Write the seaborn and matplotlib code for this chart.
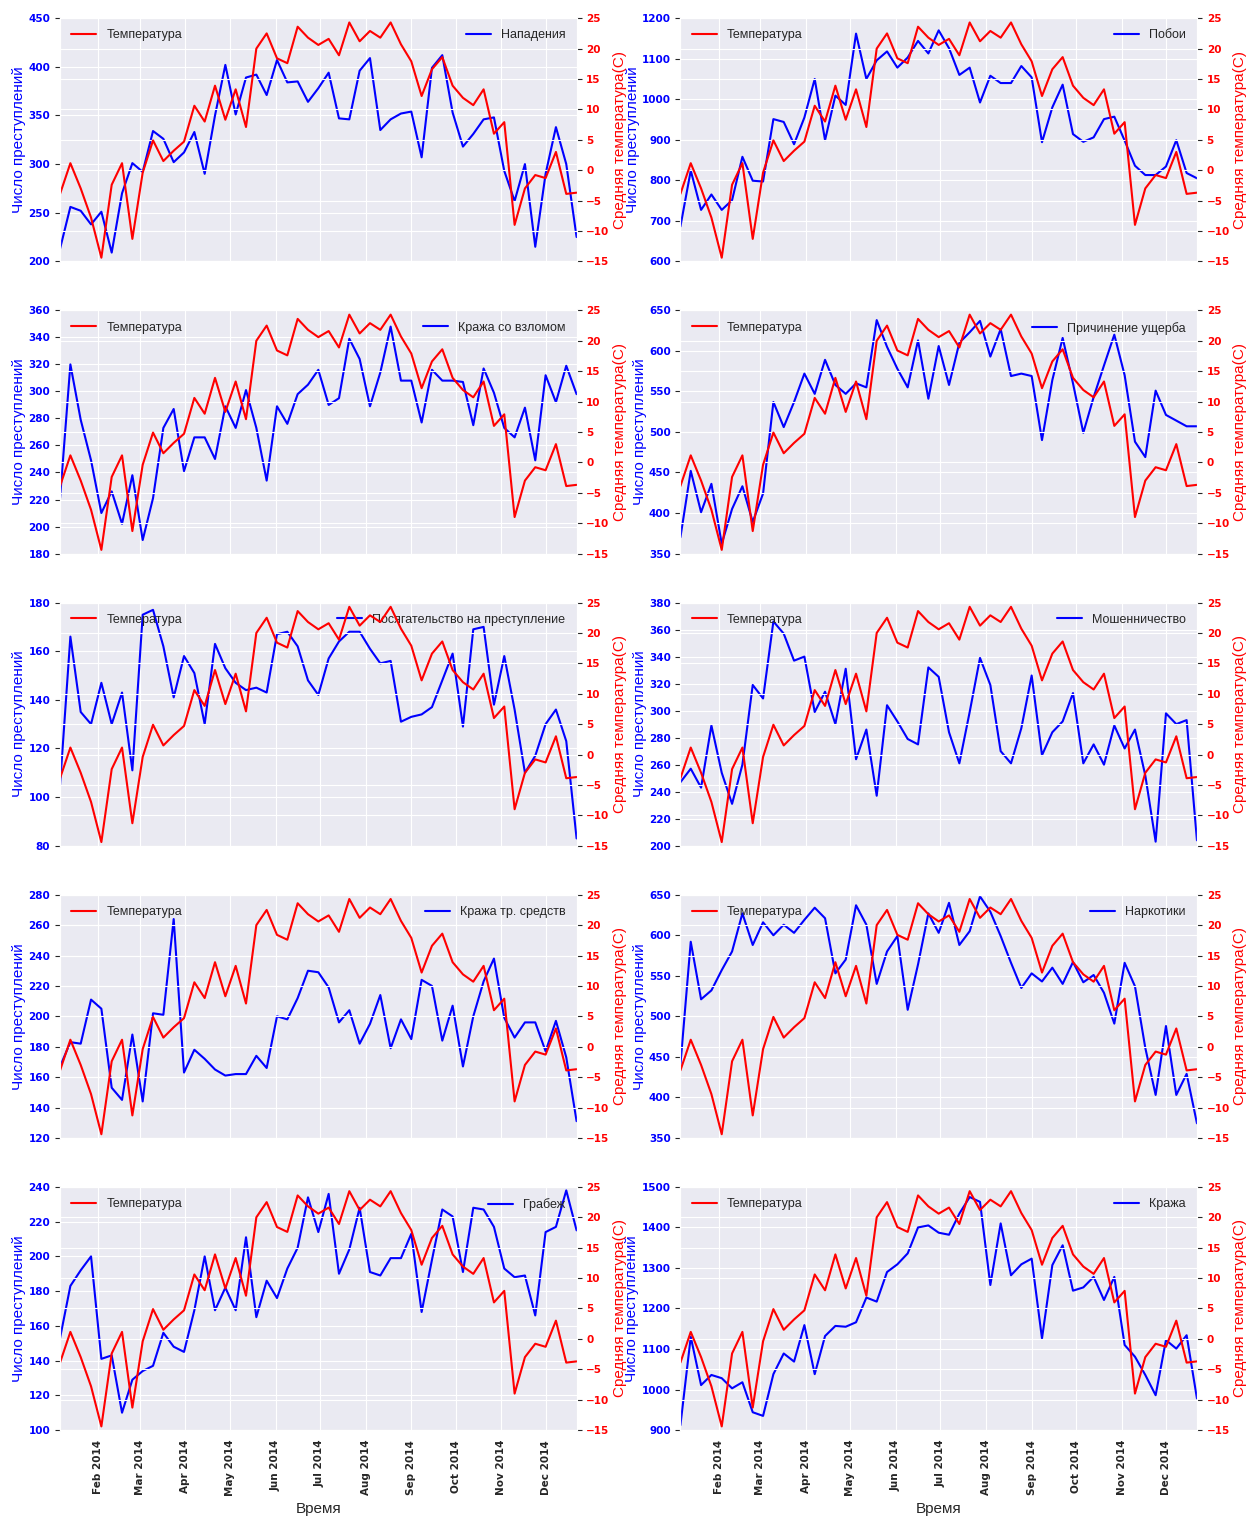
import numpy as np
import pandas as pd
import matplotlib
matplotlib.use("Agg")
import matplotlib.pyplot as plt
import seaborn as sns

# Weekly observations for 2014
weeks = pd.date_range("2014-01-06", periods=51, freq="7D")

# Mean weekly temperature, °C
temperature = [-3.9, 1.15, -3.0, -7.8, -14.4, -2.4, 1.15, -11.3, -0.4, 4.9,
               1.5, 3.2, 4.7, 10.6, 8.0, 13.9, 8.3, 13.3, 7.1, 20.0,
               22.5, 18.4, 17.6, 23.6, 21.8, 20.6, 21.6, 18.9, 24.3, 21.2,
               22.9, 21.8, 24.3, 20.7, 17.9, 12.2, 16.6, 18.6, 13.9, 11.9,
               10.7, 13.3, 6.0, 7.9, -9.0, -3.0, -0.8, -1.3, 3.0, -3.9, -3.7]

# Weekly crime counts by category
assault = [213, 256, 252, 238, 251, 209, 270, 301, 292, 334,
           326, 302, 312, 333, 290, 350, 402, 351, 389, 392,
           371, 407, 384, 385, 364, 378, 394, 347, 346, 396,
           409, 335, 346, 352, 354, 307, 399, 412, 353, 318,
           331, 346, 348, 293, 262, 300, 215, 290, 338, 300, 225]
battery = [686, 824, 727, 765, 727, 751, 858, 799, 797, 951,
           944, 889, 955, 1050, 899, 1009, 986, 1162, 1050, 1096,
           1118, 1078, 1103, 1144, 1113, 1170, 1126, 1060, 1078, 992,
           1058, 1040, 1040, 1082, 1054, 894, 980, 1036, 914, 895,
           906, 951, 957, 898, 836, 813, 813, 834, 899, 818, 805]
burglary = [221, 320, 279, 249, 210, 226, 202, 238, 190, 221,
            273, 287, 241, 266, 266, 250, 289, 273, 301, 273,
            234, 289, 276, 298, 305, 316, 290, 295, 339, 324,
            289, 314, 348, 308, 308, 277, 316, 308, 308, 307,
            275, 317, 299, 273, 266, 288, 249, 312, 292, 319, 298]
criminal_damage = [370, 452, 401, 436, 362, 405, 433, 389, 424, 537,
                   506, 537, 572, 547, 589, 558, 547, 560, 555, 638,
                   605, 578, 555, 613, 541, 606, 558, 610, 623, 637,
                   593, 627, 569, 572, 569, 490, 564, 616, 560, 499,
                   543, 582, 620, 570, 488, 469, 551, 521, 514, 507, 507]
trespass = [105, 166, 135, 130, 147, 130, 143, 111, 175, 177,
            162, 141, 158, 151, 130, 163, 153, 147, 144, 145,
            143, 167, 168, 162, 148, 142, 157, 164, 168, 168,
            161, 155, 156, 131, 133, 134, 137, 148, 159, 129,
            169, 170, 138, 158, 136, 110, 117, 130, 136, 123, 83]
fraud = [247, 257, 243, 289, 254, 231, 260, 319, 309, 366,
         357, 337, 340, 299, 314, 290, 331, 264, 286, 237,
         304, 292, 279, 275, 332, 325, 284, 261, 299, 339,
         319, 270, 261, 287, 326, 267, 284, 292, 313, 261,
         275, 260, 289, 272, 286, 252, 203, 298, 290, 293, 204]
vehicle_theft = [167, 183, 182, 211, 205, 153, 145, 188, 144, 202,
                 201, 264, 163, 178, 172, 165, 161, 162, 162, 174,
                 166, 200, 198, 212, 230, 229, 219, 196, 204, 182,
                 195, 214, 179, 198, 185, 224, 220, 184, 207, 167,
                 200, 223, 238, 199, 186, 196, 196, 177, 197, 173, 131]
narcotics = [440, 592, 521, 532, 557, 580, 627, 588, 616, 600,
             613, 603, 619, 634, 621, 553, 570, 637, 613, 540,
             580, 599, 508, 564, 627, 603, 640, 588, 605, 648,
             629, 599, 566, 535, 553, 543, 560, 540, 567, 542,
             551, 529, 491, 566, 537, 461, 403, 488, 403, 429, 368]
robbery = [153, 183, 192, 200, 141, 143, 110, 129, 134, 137,
           156, 148, 145, 169, 200, 169, 182, 169, 211, 165,
           186, 176, 193, 205, 234, 214, 236, 190, 204, 228,
           191, 189, 199, 199, 213, 168, 198, 227, 223, 191,
           228, 227, 217, 193, 188, 189, 166, 214, 217, 238, 215]
theft = [912, 1130, 1011, 1036, 1028, 1003, 1018, 944, 935, 1038,
         1089, 1069, 1159, 1038, 1132, 1157, 1155, 1166, 1227, 1217,
         1290, 1309, 1336, 1400, 1405, 1387, 1382, 1434, 1475, 1463,
         1258, 1410, 1282, 1309, 1323, 1126, 1307, 1356, 1244, 1252,
         1278, 1221, 1278, 1110, 1081, 1036, 986, 1122, 1101, 1134, 978]

crime_names = ["Нападения", "Побои", "Кража со взломом", "Причинение ущерба",
               "Посягательство на преступление", "Мошенничество",
               "Кража тр. средств", "Наркотики", "Грабеж", "Кража"]
crime_series = [assault, battery, burglary, criminal_damage, trespass,
                fraud, vehicle_theft, narcotics, robbery, theft]

# Left-axis range (low, high, step) for each panel
count_ranges = [(200, 450, 50), (600, 1200, 100), (180, 360, 20), (350, 650, 50),
                (80, 180, 20), (200, 380, 20), (120, 280, 20), (350, 650, 50),
                (100, 240, 20), (900, 1500, 100)]
temp_ticks = [-15, -10, -5, 0, 5, 10, 15, 20, 25]

month_ticks = pd.date_range("2014-02-01", "2014-12-01", freq="MS")
month_labels = ["Feb 2014", "Mar 2014", "Apr 2014", "May 2014", "Jun 2014",
                "Jul 2014", "Aug 2014", "Sep 2014", "Oct 2014", "Nov 2014",
                "Dec 2014"]

sns.set_style("darkgrid")
plt.rcParams["font.family"] = ["Liberation Sans", "DejaVu Sans"]

TEXT = "#262626"
TICK_FONT = dict(family="DejaVu Sans", weight="bold", size=7.5)


def fmt(v):
    return str(v).replace("-", "\u2212")


fig, axes = plt.subplots(5, 2, figsize=(12.51, 15.17), dpi=100, sharex=True)
fig.subplots_adjust(left=0.048, right=0.9568, bottom=0.0573, top=0.988,
                    wspace=0.201, hspace=0.2016)

for i, ax in enumerate(axes.flat):
    name = crime_names[i]
    values = crime_series[i]
    lo, hi, step = count_ranges[i]

    sns.lineplot(x=weeks, y=values, ax=ax, color="b", lw=1.5, label=name)
    ax.set_xlim(weeks[0], weeks[-1])
    ax.set_ylim(lo, hi)
    yt = list(range(lo, hi + 1, step))
    ax.set_yticks(yt)
    ax.set_yticklabels([fmt(v) for v in yt], color="b", fontdict=TICK_FONT)
    ax.set_ylabel("Число преступлений", color="b", fontsize=11, labelpad=1.5)
    ax.set_xlabel("")
    ax.legend(loc="upper right", frameon=False, fontsize=9,
              labelcolor=TEXT)

    ax2 = ax.twinx()
    sns.lineplot(x=weeks, y=temperature, ax=ax2, color="r", lw=1.5,
                 label="Температура")
    ax2.set_ylim(-15, 25)
    ax2.set_yticks(temp_ticks)
    ax2.set_yticklabels([fmt(v) for v in temp_ticks], color="r",
                        fontdict=TICK_FONT)
    ax2.set_ylabel("Средняя температура(С)", color="r", fontsize=11,
                   labelpad=2.5)
    ax2.set_xlabel("")
    ax2.legend(loc="upper left", frameon=False, fontsize=9, labelcolor=TEXT)

for ax in axes[-1]:
    ax.set_xticks(month_ticks)
    ax.set_xticklabels(month_labels, rotation=90, fontdict=TICK_FONT,
                       color=TEXT)
    ax.set_xlabel("Время", fontsize=11, color=TEXT)

fig.savefig("out.png", dpi=100)
